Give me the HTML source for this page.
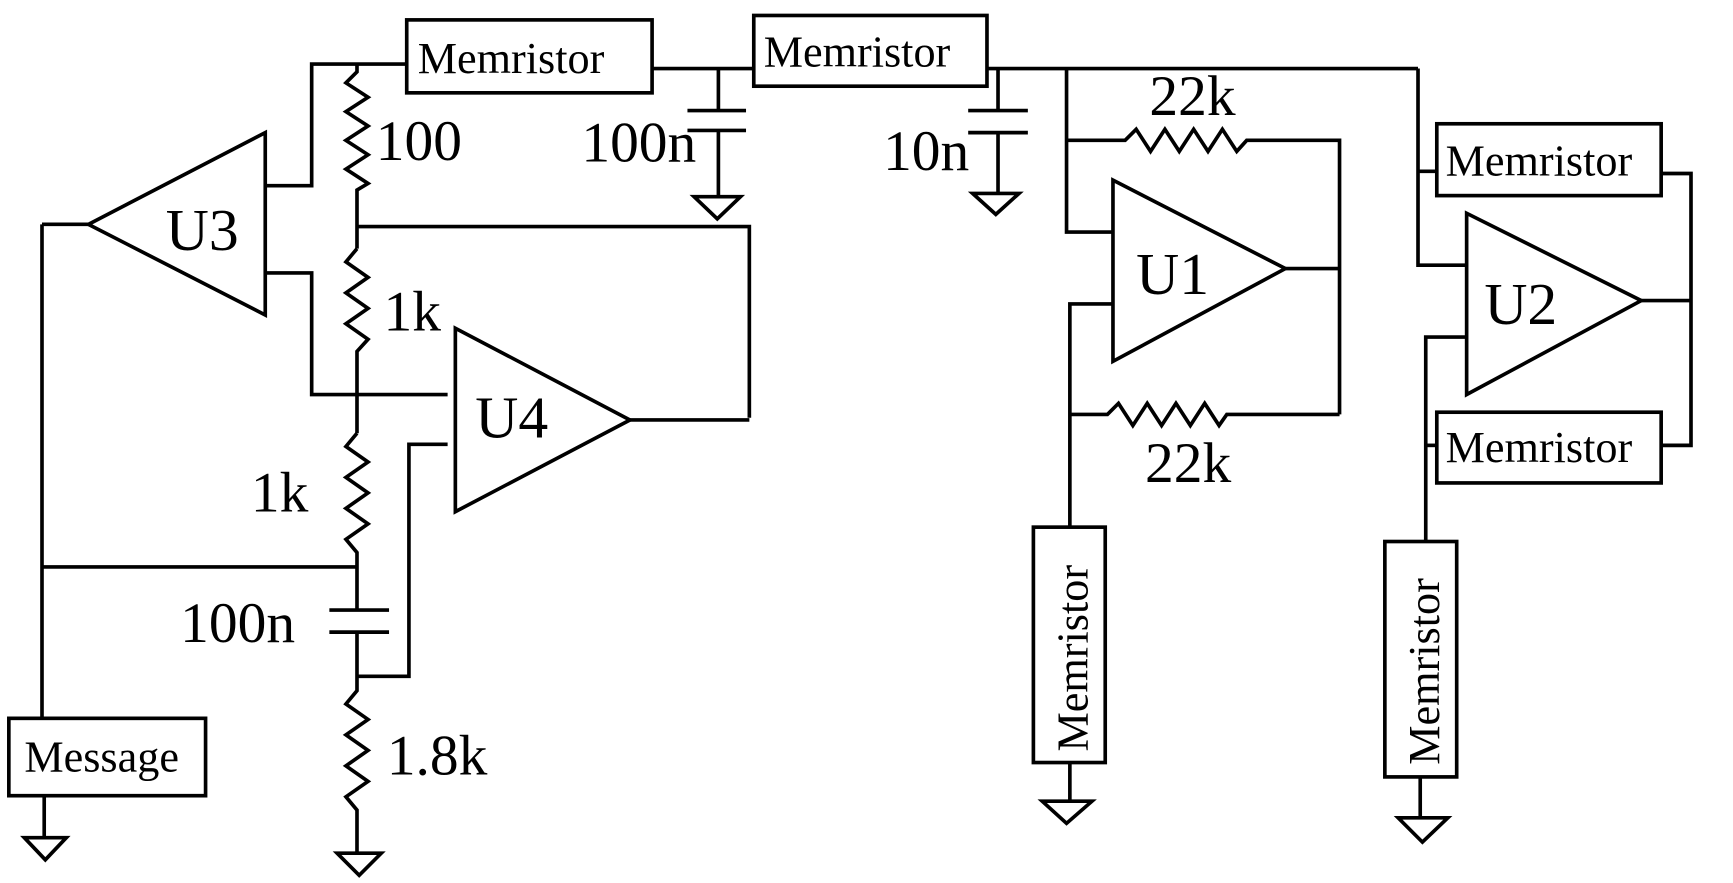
<!DOCTYPE html>
<html><head><meta charset="utf-8"><style>html,body{margin:0;padding:0;background:#fff}svg{display:block}</style></head>
<body>
<svg width="1733" height="883" viewBox="0 0 1568 799" preserveAspectRatio="none" xmlns="http://www.w3.org/2000/svg" font-family="Liberation Serif, serif" fill="none" stroke="#000" stroke-width="3.3">
<g>
<rect x="368" y="18" width="222" height="66"/>
<rect x="682" y="14" width="211" height="64"/>
<polyline points="240,168 282,168 282,58 368,58"/>
<polyline points="323,58 323,65 313,75 333,88 313,101 333,114 313,127 333,140 313,153 333,166 323,172 323,225"/>
<line x1="590" y1="62" x2="682" y2="62"/>
<polyline points="650,62 650,100"/><line x1="622" y1="100" x2="675" y2="100"/><line x1="622" y1="118" x2="675" y2="118"/>
<polyline points="650,118 650,178"/><polygon points="628,178 670,178 649,198"/>
<polyline points="323,205 678,205 678,378"/>
<polyline points="570,380 678,380"/>
<polyline points="323,225 313,237 333,251 313,265 333,279 313,293 333,307 323,318 323,392"/>
<polygon points="80,203 240,120 240,285"/>
<polyline points="38,203 80,203"/><line x1="38" y1="203" x2="38" y2="650"/>
<rect x="8" y="650" width="178" height="70"/>
<line x1="40" y1="720" x2="40" y2="758"/><polygon points="22,758 60,758 41,778"/>
<polyline points="240,247 282,247 282,357 405,357"/>
<polygon points="412,297 412,463 570,380"/>
<polyline points="405,402 370,402 370,612 323,612"/>
<polyline points="323,392 313,404 333,418 313,432 333,446 313,460 333,474 313,488 323,500 323,552"/>
<line x1="38" y1="513" x2="323" y2="513"/>
<line x1="298" y1="552" x2="352" y2="552"/><line x1="298" y1="572" x2="352" y2="572"/>
<polyline points="323,572 323,625 313,637 333,651 313,665 333,679 313,693 333,707 313,721 323,733 323,772"/>
<polygon points="305,772 345,772 325,792"/>
<line x1="893" y1="62" x2="1283" y2="62"/>
<polyline points="903,62 903,100"/><line x1="876" y1="100" x2="930" y2="100"/><line x1="876" y1="120" x2="930" y2="120"/>
<polyline points="903,120 903,175"/><polygon points="880,175 922,175 901,194"/>
<polyline points="965,62 965,210 1007,210"/>
<polyline points="965,127 1018,127 1028,117 1041,137 1054,117 1067,137 1080,117 1093,137 1106,117 1119,137 1128,127 1212,127 1212,375"/>
<polygon points="1007,163 1007,327 1163,243"/>
<line x1="1163" y1="243" x2="1212" y2="243"/>
<polyline points="1007,275 968,275 968,477"/>
<polyline points="968,375 1002,375 1012,365 1025,385 1038,365 1051,385 1064,365 1077,385 1090,365 1103,385 1110,375 1212,375"/>
<rect x="935" y="477" width="65" height="213"/>
<line x1="968" y1="690" x2="968" y2="725"/><polygon points="943,725 988,725 965,745"/>
<polyline points="1283,62 1283,240 1327,240"/>
<line x1="1283" y1="155" x2="1300" y2="155"/>
<rect x="1300" y="112" width="203" height="65"/>
<polygon points="1327,193 1327,357 1485,272"/>
<polyline points="1485,272 1530,272"/>
<polyline points="1503,157 1530,157 1530,403 1503,403"/>
<rect x="1300" y="373" width="203" height="64"/>
<polyline points="1327,305 1290,305 1290,490"/>
<line x1="1290" y1="403" x2="1300" y2="403"/>
<rect x="1253" y="490" width="65" height="213"/>
<line x1="1285" y1="703" x2="1285" y2="740"/><polygon points="1265,740 1310,740 1287,762"/>
</g>
<g fill="#000" stroke="none">
<text x="378" y="66" font-size="40">Memristor</text>
<text x="691" y="60" font-size="40">Memristor</text>
<text x="1308" y="159" font-size="40">Memristor</text>
<text x="1308" y="418" font-size="40">Memristor</text>
<text x="22" y="698" font-size="40">Message</text>
<text transform="translate(984,680) rotate(-90)" font-size="40">Memristor</text>
<text transform="translate(1302,692) rotate(-90)" font-size="40">Memristor</text>
<text x="340" y="145" font-size="52">100</text>
<text x="526" y="146" font-size="52">100n</text>
<text x="347" y="299" font-size="52">1k</text>
<text x="227" y="463" font-size="52">1k</text>
<text x="163" y="581" font-size="52">100n</text>
<text x="350" y="701" font-size="52">1.8k</text>
<text x="799" y="154" font-size="52">10n</text>
<text x="1040" y="104" font-size="52">22k</text>
<text x="1036" y="436" font-size="52">22k</text>
<text x="150" y="226" font-size="54">U3</text>
<text x="430" y="396" font-size="54">U4</text>
<text x="1028" y="266" font-size="54">U1</text>
<text x="1343" y="293" font-size="54">U2</text>
</g>
</svg>
</body></html>
